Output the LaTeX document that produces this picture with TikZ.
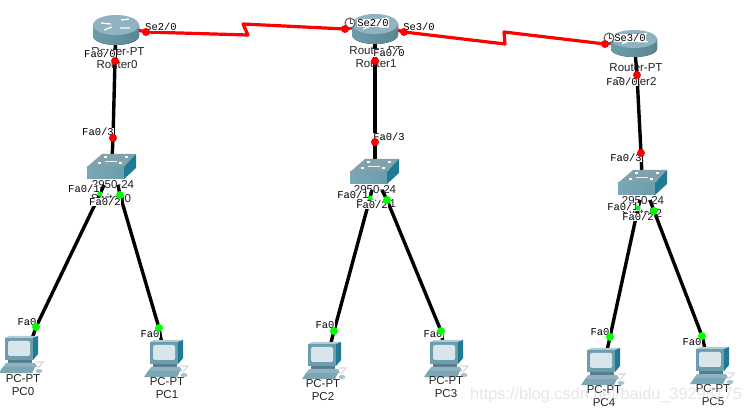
\documentclass[tikz,border=0pt]{standalone}
\usepackage{fontspec}
\setmainfont{Liberation Sans}
\newfontfamily\portfont{Liberation Mono}
\usetikzlibrary{backgrounds}
\definecolor{pttop}{HTML}{8FB3C0}
\definecolor{ptbody}{HTML}{6C9DAD}
\definecolor{ptdark}{HTML}{1F7A94}
\definecolor{ptscreen}{HTML}{D8E6EC}
\definecolor{lbltext}{HTML}{222222}
\tikzset{
	devlabel/.style={font=\fontsize{11.5}{13}\selectfont, text=lbltext, inner sep=0pt},
	portlabel/.style={font=\portfont\fontsize{10.5}{11}\selectfont, fill=white, inner sep=0.3pt},
	reddot/.style={circle, fill=red, minimum size=8pt, inner sep=0pt},
	greendot/.style={circle, fill=green, minimum size=8pt, inner sep=0pt},
	greensmall/.style={circle, fill=green, minimum size=5pt, inner sep=0pt},
	serial/.style={draw=red, line width=3.2pt, line join=round},
	copper/.style={draw=black, line width=3.4pt, line join=round},
	clockface/.style={circle, draw=black!65, line width=1pt, fill=white, minimum size=10pt, inner sep=0pt,
		path picture={\draw[black!70, line width=0.7pt] (path picture bounding box.center) -- ++(0,3.5pt)
			(path picture bounding box.center) -- ++(2.5pt,0);}},
	pics/routerpt/.style={code={
		\fill[left color=ptbody, middle color=ptscreen!85!ptbody, right color=ptbody!85!black]
			(-23,0) -- (-23,11) arc[start angle=180, end angle=0, x radius=23, y radius=9] -- (23,0) -- cycle;
		\fill[pttop] (0,0) ellipse[x radius=23, y radius=10];
		\draw[white, line width=1.3pt] (-15,-2) -- (-5,-1) (5,-5) -- (13,-6) (4,3) -- (14,3) (-12,5) -- (-4,2);
	}},
	pics/switchpt/.style={code={
		\fill[pttop!90!black] (0,0) -- (15,-13) -- (49,-13) -- (37,0) -- cycle;
		\fill[left color=ptbody!90!white, right color=ptbody] (0,0) rectangle (37,12);
		\fill[ptdark] (37,0) -- (49,-13) -- (49,1) -- (37,12) -- cycle;
		\draw[white, line width=1.1pt] (11,-4) -- (14,-4) (17,-10) -- (20,-10) (32,-4) -- (35,-4) (38,-10) -- (41,-10);
		\draw[white!80!pttop, line width=0.7pt] (18,-6) -- (30,-6);
	}},
	pics/pcpt/.style={code={
		\fill[pttop!70!white] (0,0) -- (4,-2) -- (33,-2) -- (28,0) -- cycle;
		\fill[ptdark] (28,0) -- (33,-2) -- (33,16) -- (28,22) -- cycle;
		\fill[ptbody] (0,0) rectangle (28,22);
		\fill[ptscreen, rounded corners=1.5pt] (3,3) rectangle (25,18);
		\fill[ptbody!80!black] (3,22) rectangle (27,25);
		\fill[pttop] (1,25) -- (30,25) -- (32,29) -- (-2,29) -- cycle;
		\fill[ptbody!90!white] (-2,29) -- (30,29) -- (27,35) -- (-6,35) -- cycle;
		\draw[black!15, line width=1.2pt] (31,24) -- (38,24) -- (33,30);
		\fill[pttop!80!white] (34,33) ellipse[x radius=3.5, y radius=2];
	}},
}
\begin{document}
\begin{tikzpicture}[x=1pt, y=-1pt]
	\useasboundingbox (0,0) rectangle (744,411);
	% Device positions:
	\coordinate (Router0) at (116,25);
	\coordinate (Router1) at (375,24);
	\coordinate (Router2) at (634,39);
	\coordinate (Switch0) at (87,167);
	\coordinate (Switch1) at (350,172);
	\coordinate (Switch2) at (618,183);
	\coordinate (PC0) at (5,338);
	\coordinate (PC1) at (150,342);
	\coordinate (PC2) at (308,344);
	\coordinate (PC3) at (430,342);
	\coordinate (PC4) at (587,350);
	\coordinate (PC5) at (696,349);
	\coordinate (S0up) at (112,160);
	\coordinate (S1up) at (375,165);
	\coordinate (S2up) at (642,176);
	\coordinate (S0a) at (104,185);
	\coordinate (S0b) at (118,185);
	\coordinate (S1a) at (372,190);
	\coordinate (S1b) at (382,190);
	\coordinate (S2a) at (640,200);
	\coordinate (S2b) at (650,200);
	\coordinate (Bend0a) at (248,35);
	\coordinate (Bend0b) at (243,24);
	\coordinate (Bend1a) at (505,44);
	\coordinate (Bend1b) at (504,32);
	\coordinate (PC0in) at (30,345);
	\coordinate (PC1in) at (162,345);
	\coordinate (PC2in) at (329,350);
	\coordinate (PC3in) at (444,348);
	\coordinate (PC4in) at (606,355);
	\coordinate (PC5in) at (706,353);

	% Devices:
	\pic at (Router0) {routerpt};
	\pic at (Router1) {routerpt};
	\pic[yscale=0.9] at (Router2) {routerpt};
	\pic at (Switch0) {switchpt};
	\pic at (Switch1) {switchpt};
	\pic at (Switch2) {switchpt};
	\pic at (PC0) {pcpt};
	\pic at (PC1) {pcpt};
	\pic at (PC2) {pcpt};
	\pic at (PC3) {pcpt};
	\pic at (PC4) {pcpt};
	\pic at (PC5) {pcpt};

	% Device labels:
	\node[devlabel] (R0type) at (118,52) {Router-PT};
	\node[devlabel] (R0name) at (117,65) {Router0};
	\node[devlabel] (R1type) at (376,51) {Router-PT};
	\node[devlabel] (R1name) at (376,64) {Router1};
	\node[devlabel] (R2type) at (636,68) {Router-PT};
	\node[devlabel] (R2name) at (636,82) {Router2};
	\node[devlabel] (S0type) at (113,185) {2950-24};
	\node[devlabel] (S0name) at (111,198) {Switch0};
	\node[devlabel] (S1type) at (375,190) {2950-24};
	\node[devlabel] (S1name) at (376,203) {Switch1};
	\node[devlabel] (S2type) at (643,201) {2950-24};
	\node[devlabel] (S2name) at (642,213) {Switch2};
	\node[devlabel] (P0type) at (23,379) {PC-PT};
	\node[devlabel] (P0name) at (23,392) {PC0};
	\node[devlabel] (P1type) at (167,382) {PC-PT};
	\node[devlabel] (P1name) at (167,395) {PC1};
	\node[devlabel] (P2type) at (323,384) {PC-PT};
	\node[devlabel] (P2name) at (323,397) {PC2};
	\node[devlabel] (P3type) at (446,381) {PC-PT};
	\node[devlabel] (P3name) at (446,394) {PC3};
	\node[devlabel] (P4type) at (604,390) {PC-PT};
	\node[devlabel] (P4name) at (604,403) {PC4};
	\node[devlabel] (P5type) at (713,389) {PC-PT};
	\node[devlabel] (P5name) at (713,402) {PC5};

	% Port labels:
	\node[portlabel] at (161,27) {Se2/0};
	\node[portlabel] at (100,54) {Fa0/0};
	\node[portlabel] at (373,23) {Se2/0};
	\node[portlabel] at (419,27) {Se3/0};
	\node[portlabel] at (389,53) {Fa0/0};
	\node[portlabel] at (630,38) {Se3/0};
	\node[portlabel] at (622,82) {Fa0/0};
	\node[portlabel] at (98,132) {Fa0/3};
	\node[portlabel] at (389,137) {Fa0/3};
	\node[portlabel] at (626,158) {Fa0/3};
	\node[portlabel] at (84,189) {Fa0/1};
	\node[portlabel] at (105,202) {Fa0/2};
	\node[portlabel] at (353,195) {Fa0/1};
	\node[portlabel] at (372,205) {Fa0/2};
	\node[portlabel] at (623,207) {Fa0/1};
	\node[portlabel] at (638,217) {Fa0/2};
	\node[portlabel] at (27,322) {Fa0};
	\node[portlabel] at (150,334) {Fa0};
	\node[portlabel] at (325,325) {Fa0};
	\node[portlabel] at (433,334) {Fa0};
	\node[portlabel] at (600,332) {Fa0};
	\node[portlabel] at (692,342) {Fa0};

	% Clocks and port lights:
	\node[clockface] (R1clock) at (350,23) {};
	\node[clockface] (R2clock) at (609,38) {};
	\node[reddot] (R0se) at (146,32) {};
	\node[reddot] (R1sea) at (345,29) {};
	\node[reddot] (R1seb) at (404,32) {};
	\node[reddot] (R2se) at (605,44) {};
	\node[reddot] (R0fa) at (115,61) {};
	\node[reddot] (R1fa) at (375,61) {};
	\node[reddot] (R2fa) at (637,75) {};
	\node[reddot] (S0fa) at (113,138) {};
	\node[reddot] (S1fa) at (375,142) {};
	\node[reddot] (S2fa) at (641,153) {};
	\node[greensmall] (S0g1) at (100,194) {};
	\node[greendot] (S0g2) at (120,195) {};
	\node[greensmall] (S1g1) at (370,198) {};
	\node[greendot] (S1g2) at (387,200) {};
	\node[greensmall] (S2g1) at (638,208) {};
	\node[greendot] (S2g2) at (654,211) {};
	\node[greendot] (P0g) at (36,327) {};
	\node[greendot] (P1g) at (159,328) {};
	\node[greendot] (P2g) at (334,331) {};
	\node[greendot] (P3g) at (441,331) {};
	\node[greendot] (P4g) at (610,337) {};
	\node[greendot] (P5g) at (702,336) {};

	% Links, behind everything else:
	\begin{scope}[on background layer]
		\draw[serial] (Router0) -- (R0se.center) -- (Bend0a) -- (Bend0b) -- (R1sea.center) -- (Router1);
		\draw[serial] (Router1) -- (R1seb.center) -- (Bend1a) -- (Bend1b) -- (R2se.center) -- (Router2);
		\draw[copper] (Router0) -- (R0fa.center) -- (S0fa.center) -- (S0up);
		\draw[copper] (Router1) -- (R1fa.center) -- (S1fa.center) -- (S1up);
		\draw[copper] (Router2) -- (R2fa.center) -- (S2fa.center) -- (S2up);
		\draw[copper] (S0a) -- (S0g1.center) -- (P0g.center) -- (PC0in);
		\draw[copper] (S0b) -- (S0g2.center) -- (P1g.center) -- (PC1in);
		\draw[copper] (S1a) -- (S1g1.center) -- (P2g.center) -- (PC2in);
		\draw[copper] (S1b) -- (S1g2.center) -- (P3g.center) -- (PC3in);
		\draw[copper] (S2a) -- (S2g1.center) -- (P4g.center) -- (PC4in);
		\draw[copper] (S2b) -- (S2g2.center) -- (P5g.center) -- (PC5in);
	\end{scope}

	% Watermark:
	\node[anchor=west, inner sep=0pt, text=black!20, text opacity=0.5, font=\fontsize{16.3}{18}\selectfont] (mark) at (470,395) {https://blog.csdn.net/baidu\_39298175};
\end{tikzpicture}
\end{document}
